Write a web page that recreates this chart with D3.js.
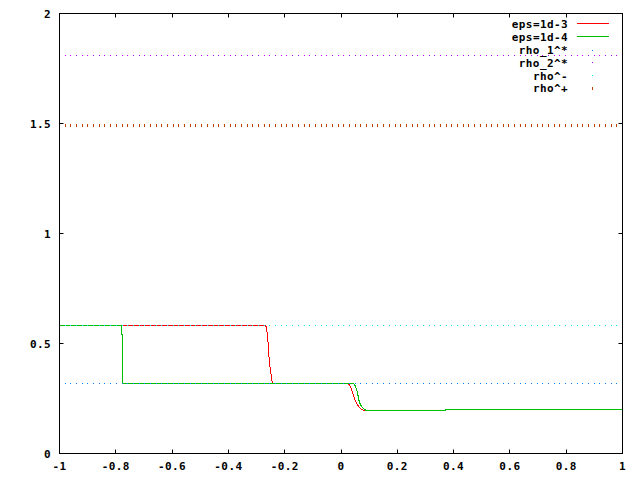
<!DOCTYPE html>
<html>
<head>
<meta charset="utf-8">
<script src="https://cdn.jsdelivr.net/npm/d3@7"></script>
<style>
html,body{margin:0;padding:0;background:#fff;}
svg{display:block;}
text{font-family:"DejaVu Sans Mono",monospace;font-weight:bold;font-size:11px;letter-spacing:0.4px;fill:#000;}
</style>
</head>
<body>
<svg id="chart" width="640" height="480"></svg>
<script>
// ---- data ----
const xTicks = [-1, -0.8, -0.6, -0.4, -0.2, 0, 0.2, 0.4, 0.6, 0.8, 1];
const xTickLabels = ["-1", "-0.8", "-0.6", "-0.4", "-0.2", "0", "0.2", "0.4", "0.6", "0.8", "1"];
const yTicks = [0, 0.5, 1, 1.5, 2];
const yTickLabels = ["0", "0.5", "1", "1.5", "2"];

const seriesNames = ["eps=1d-3", "eps=1d-4", "rho_1^*", "rho_2^*", "rho^-", "rho^+"];

const eps3X = [-1, -0.27, -0.2675, -0.264, -0.262, -0.258, -0.2547, -0.2497, -0.2462, -0.2426, 0.0256, 0.0338, 0.0398, 0.0455, 0.0515, 0.0575, 0.0657, 0.0728, 0.08, 0.371, 0.372, 1];
const eps3Y = [0.583, 0.583, 0.5795, 0.572, 0.5386, 0.493, 0.417, 0.372, 0.334, 0.319, 0.319, 0.305, 0.283, 0.26, 0.237, 0.222, 0.21, 0.2, 0.196, 0.196, 0.2, 0.2];
const eps4X = [-1, -0.7787, -0.7787, -0.775, -0.775, 0.0455, 0.0515, 0.0575, 0.061, 0.063, 0.069, 0.075, 0.081, 0.0895, 0.371, 0.372, 1];
const eps4Y = [0.583, 0.583, 0.540, 0.540, 0.319, 0.319, 0.305, 0.283, 0.26, 0.245, 0.222, 0.21, 0.202, 0.196, 0.196, 0.2, 0.2];

const rho1Star = 0.319;
const rho2Star = 1.81;
const rhoMinus = 0.583;
const rhoPlus = 1.49;
const nSamples = 100;

// ---- layout ----
const svg = d3.select("#chart");
const L = 59.5, R = 622.5, T = 13.5, B = 453.5;
const x = d3.scaleLinear().domain([-1, 1]).range([L, R]);
const y = d3.scaleLinear().domain([0, 2]).range([B, T]);
const colors = ["#ff0000", "#00c000", "#0080ff", "#c000ff", "#00eeee", "#c04000"];

// ---- curves ----
const line = d3.line().x(d => x(d[0])).y(d => y(d[1]));
const eps3 = eps3X.map((v, i) => [v, eps3Y[i]]);
const eps4 = eps4X.map((v, i) => [v, eps4Y[i]]);
svg.append("path").attr("d", line(eps3)).attr("fill", "none").attr("stroke", colors[0]).attr("stroke-width", 1).attr("shape-rendering", "crispEdges");
svg.append("path").attr("d", line(eps4)).attr("fill", "none").attr("stroke", colors[1]).attr("stroke-width", 1).attr("shape-rendering", "crispEdges");

// ---- constant functions plotted with dots ----
const samples = d3.range(nSamples).map(i => -1 + 2 * i / (nSamples - 1));
const consts = [rho1Star, rho2Star, rhoMinus];
consts.forEach((c, k) => {
  svg.append("g").selectAll("rect").data(samples).join("rect")
    .attr("x", d => Math.floor(x(d)))
    .attr("y", Math.floor(y(c)))
    .attr("width", 1).attr("height", 1)
    .attr("fill", colors[2 + k]);
});
svg.append("g").selectAll("rect").data(samples).join("rect")
  .attr("x", d => Math.floor(x(d)))
  .attr("y", Math.floor(y(rhoPlus)) - 1)
  .attr("width", 1).attr("height", 3)
  .attr("fill", colors[5]);

// ---- border & ticks ----
svg.append("rect").attr("x", L).attr("y", T).attr("width", R - L).attr("height", B - T)
  .attr("fill", "none").attr("stroke", "#000").attr("stroke-width", 1);
const tl = 4;
const tg = svg.append("g").attr("stroke", "#000").attr("stroke-width", 1);
xTicks.forEach(t => {
  const px = Math.round(x(t) - 0.5) + 0.5;
  tg.append("line").attr("x1", px).attr("x2", px).attr("y1", B).attr("y2", B - tl);
  tg.append("line").attr("x1", px).attr("x2", px).attr("y1", T).attr("y2", T + tl);
});
yTicks.forEach(t => {
  const py = Math.round(y(t) - 0.5) + 0.5;
  tg.append("line").attr("x1", L).attr("x2", L + tl).attr("y1", py).attr("y2", py);
  tg.append("line").attr("x1", R).attr("x2", R - tl).attr("y1", py).attr("y2", py);
});
xTicks.forEach((t, i) => {
  svg.append("text").attr("x", x(t)).attr("y", 470).attr("text-anchor", "middle").text(xTickLabels[i]);
});
yTicks.forEach((t, i) => {
  svg.append("text").attr("x", 51).attr("y", y(t) + 4).attr("text-anchor", "end").text(yTickLabels[i]);
});

// ---- legend ----
const legY = [24, 37, 50, 62.7, 75.5, 88.3];
seriesNames.forEach((name, i) => {
  svg.append("text").attr("x", 568).attr("y", legY[i] + 4).attr("text-anchor", "end").text(name);
  if (i < 2) {
    svg.append("line").attr("x1", 577).attr("x2", 609)
      .attr("y1", Math.floor(legY[i]) - 0.5).attr("y2", Math.floor(legY[i]) - 0.5)
      .attr("stroke", colors[i]).attr("stroke-width", 1);
  } else if (i < 5) {
    svg.append("rect").attr("x", 592).attr("y", Math.floor(legY[i])).attr("width", 1).attr("height", 1).attr("fill", colors[i]);
  } else {
    svg.append("rect").attr("x", 592).attr("y", Math.floor(legY[i]) - 1).attr("width", 1).attr("height", 3).attr("fill", colors[i]);
  }
});
</script>
</body>
</html>
